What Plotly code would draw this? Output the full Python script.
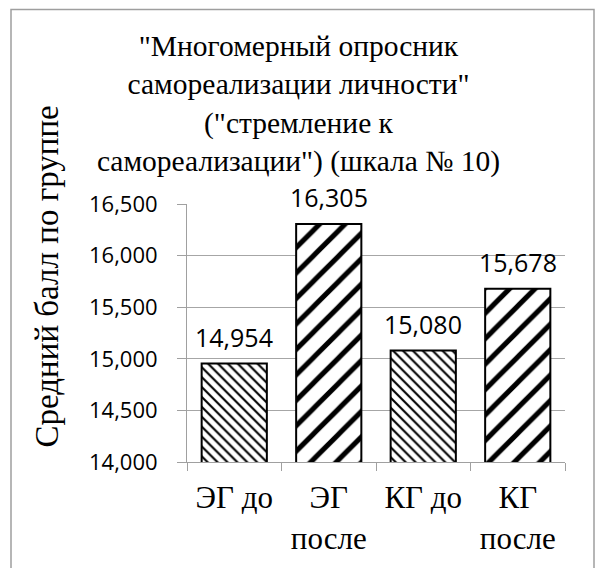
import plotly.graph_objects as go

categories = ["ЭГ до", "ЭГ<br>после", "КГ до", "КГ<br>после"]
values = [14.954, 16.305, 15.080, 15.678]
shapes_pat = ["\\", "/", "\\", "/"]
pat_sizes = [7, 18, 7, 18]
pat_solid = [0.3, 0.28, 0.3, 0.28]

title_text = ('"Многомерный опросник<br>самореализации личности"<br>'
              '("стремление к<br>самореализации") (шкала № 10)')
ytitle_text = "Средний балл по группе"

W, H = 597, 568
L, R, T, B = 187, 565, 204, 464
pw, ph = R - L, B - T

SERIF = "Liberation Serif, Times New Roman, serif"
SANS = "Open Sans, sans-serif"

fig = go.Figure(go.Bar(
    x=categories, y=values,
    marker=dict(color="white",
                line=dict(color="black", width=2),
                pattern=dict(shape=shapes_pat, size=pat_sizes, solidity=pat_solid,
                             fgcolor="black", bgcolor="white", fillmode="replace")),
    cliponaxis=False,
))

label_annots = [dict(x=c, y=v, text=f"{v:.3f}".replace(".", ","), showarrow=False,
                     xref="x", yref="y", xanchor="center", yanchor="bottom", yshift=8,
                     font=dict(family=SANS, size=25, color="black"))
                for c, v in zip(categories, values)]

fig.update_layout(
    width=W, height=H,
    margin=dict(l=L, r=W - R, t=T, b=H - B),
    paper_bgcolor="white", plot_bgcolor="white",
    separators=", ",
    bargap=0.31,
    showlegend=False,
    title=dict(text=title_text, x=0.5, xref="container", xanchor="center",
               y=1 - 56 / H, yref="container", yanchor="top",
               font=dict(family=SERIF, size=29.5, color="black")),
    xaxis=dict(type="category", tickson="boundaries", ticks="outside", ticklen=8,
               tickcolor="#A0A0A0", showline=True, linecolor="#A0A0A0", linewidth=1,
               showgrid=False, ticklabelstandoff=8,
               tickfont=dict(family=SERIF, size=31, color="black")),
    yaxis=dict(range=[14, 16.5], dtick=0.5, tickformat=".3f", ticks="outside",
               ticklen=9, tickcolor="#A0A0A0", showline=True, linecolor="#A0A0A0",
               linewidth=1, showgrid=True, gridcolor="#A6A6A6", gridwidth=1,
               ticklabelstandoff=15, zeroline=False,
               tickfont=dict(family=SANS, size=22, color="black")),
    annotations=label_annots + [dict(text=ytitle_text, textangle=-90, showarrow=False,
                      xref="paper", yref="paper",
                      x=(47 - L) / pw, y=(B - 277) / ph,
                      xanchor="center", yanchor="middle",
                      font=dict(family=SERIF, size=33, color="black"))],
    shapes=[dict(type="rect", xref="paper", yref="paper",
                 x0=(11 - L) / pw, x1=(594 - L) / pw,
                 y0=(B - 580) / ph, y1=(B - 8) / ph,
                 line=dict(color="#9E9E9E", width=1.5), fillcolor="rgba(0,0,0,0)",
                 layer="below")],
)

fig.write_html("out.html", config={"displayModeBar": False},
               post_script="document.body.style.margin='0';"
                           "document.body.style.overflow='hidden';")
